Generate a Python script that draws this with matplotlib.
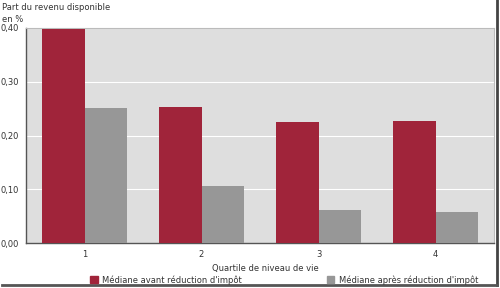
import matplotlib
matplotlib.use("Agg")
from matplotlib import pyplot as plt
from matplotlib.lines import Line2D
import numpy as np

quartiles = ["1", "2", "3", "4"]
avant = [0.398, 0.253, 0.225, 0.227]
apres = [0.252, 0.107, 0.061, 0.058]
yticks = [0.0, 0.1, 0.2, 0.3, 0.4]
ylabels = ["0,00", "0,10", "0,20", "0,30", "0,40"]

rouge = "#a0243a"
gris = "#979797"

fig = plt.figure(figsize=(5, 2.88), dpi=100)
ax = fig.add_axes([0.052, 0.156, 0.936, 0.747])
ax.set_facecolor("#dedede")

x = np.arange(len(quartiles))
w = 0.36
ax.bar(x - w / 2, avant, w, color=rouge, edgecolor="none", zorder=3)
ax.bar(x + w / 2, apres, w, color=gris, edgecolor="none", zorder=3)

ax.set_xlim(-0.5, 3.5)
ax.set_ylim(0, 0.4)
ax.set_yticks(yticks)
ax.set_yticklabels(ylabels)
ax.set_xticks(x)
ax.set_xticklabels(quartiles)
ax.tick_params(axis="both", length=0, labelsize=6, colors="#333333")
ax.tick_params(axis="x", pad=5)
ax.tick_params(axis="y", pad=5)
ax.grid(axis="y", color="white", linewidth=0.8, zorder=1)

for s in ["top", "right"]:
    ax.spines[s].set_color("#bbbbbb")
    ax.spines[s].set_linewidth(0.8)
for s in ["left", "bottom"]:
    ax.spines[s].set_color("#555555")
    ax.spines[s].set_linewidth(1.0)

fig.text(0.004, 0.99, "Part du revenu disponible\nen %", fontsize=6, va="top",
         ha="left", color="#333333", linespacing=1.5)
fig.text(0.53, 0.068, "Quartile de niveau de vie", fontsize=6, ha="center",
         va="center", color="#333333")

handles = [plt.Rectangle((0, 0), 1, 1, color=rouge),
           plt.Rectangle((0, 0), 1, 1, color=gris)]
fig.legend(handles[:1], ["Médiane avant réduction d'impôt"], loc="center left",
           bbox_to_anchor=(0.165, 0.028), frameon=False, fontsize=6,
           handlelength=0.9, handleheight=0.9, handletextpad=0.6,
           labelcolor="#333333")
fig.legend(handles[1:], ["Médiane après réduction d'impôt"], loc="center left",
           bbox_to_anchor=(0.638, 0.028), frameon=False, fontsize=6,
           handlelength=0.9, handleheight=0.9, handletextpad=0.6,
           labelcolor="#333333")

# ombre du cadre
fig.add_artist(Line2D([0.994, 0.994], [0.01, 1.0], color="#444444",
                      linewidth=2, transform=fig.transFigure))
fig.add_artist(Line2D([0.004, 0.994], [0.01, 0.01], color="#555555",
                      linewidth=2, transform=fig.transFigure))

fig.savefig("out.png", dpi=100, facecolor="white")
